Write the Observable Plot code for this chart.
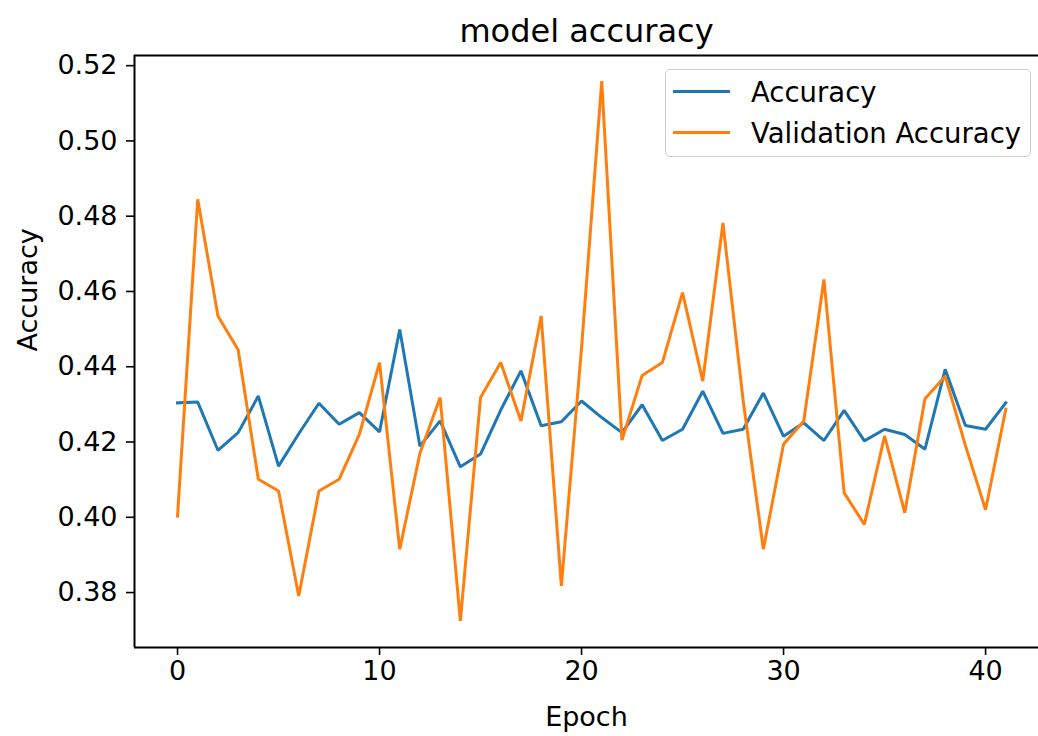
<!DOCTYPE html>
<html>
<head>
<meta charset="utf-8">
<script src="https://cdn.jsdelivr.net/npm/d3@7"></script>
<script src="https://cdn.jsdelivr.net/npm/@observablehq/plot@0.6"></script>
<style>
  html, body { margin: 0; padding: 0; background: #fff; }
  #wrap { position: relative; width: 1038px; height: 736px; overflow: hidden; font-family: "DejaVu Sans", sans-serif; }
  #legend { position: absolute; left: 665px; top: 69px; width: 366px; height: 88px; box-sizing: border-box;
            border: 1.5px solid #d0d0d0; border-radius: 5px; background: rgba(255,255,255,0.85); }
  .sw { position: absolute; left: 7px; width: 57px; height: 3px; }
  .lt { position: absolute; left: 85px; font-size: 27.5px; line-height: 32px; color: #000; white-space: nowrap; }
</style>
</head>
<body>
<div id="wrap"></div>
<script>
const epochs = [0,1,2,3,4,5,6,7,8,9,10,11,12,13,14,15,16,17,18,19,20,21,22,23,24,25,26,27,28,29,30,31,32,33,34,35,36,37,38,39,40,41];
const accuracy = [0.4304,0.4306,0.4178,0.4225,0.4322,0.4136,0.4222,0.4303,0.4247,0.4278,0.4227,0.4499,0.4189,0.4256,0.4134,0.4168,0.4285,0.4389,0.4243,0.4254,0.4309,0.4265,0.4225,0.4299,0.4204,0.4234,0.4335,0.4223,0.4234,0.4330,0.4215,0.4251,0.4204,0.4284,0.4203,0.4234,0.4220,0.4181,0.4393,0.4244,0.4234,0.4304];
const validation = [0.4003,0.4845,0.4535,0.4445,0.4101,0.4070,0.3791,0.4070,0.4101,0.4220,0.4411,0.3915,0.4170,0.4318,0.3725,0.4318,0.4411,0.4256,0.4535,0.3818,0.4450,0.5159,0.4205,0.4377,0.4411,0.4597,0.4362,0.4782,0.4310,0.3915,0.4194,0.4256,0.4632,0.4065,0.3981,0.4216,0.4012,0.4315,0.4375,0.4191,0.4020,0.4287];
const seriesNames = ["Accuracy", "Validation Accuracy"];
const seriesColors = ["#1f77b4", "#ff7f0e"];
const xTicks = [0, 10, 20, 30, 40];
const yTicks = [0.38, 0.40, 0.42, 0.44, 0.46, 0.48, 0.50, 0.52];
const title = "model accuracy";
const xLabel = "Epoch";
const yLabel = "Accuracy";

const xDomain = [-2.13, 42.62];
const yDomain = [0.3654, 0.5227];

const accData = epochs.map((e, i) => ({epoch: e, value: accuracy[i]}));
const valData = epochs.map((e, i) => ({epoch: e, value: validation[i]}));

const chart = Plot.plot({
  width: 1038,
  height: 736,
  marginTop: 55,
  marginBottom: 89,
  marginLeft: 134,
  marginRight: 0,
  style: {fontFamily: "DejaVu Sans, sans-serif", fontSize: "27px", color: "#000", background: "#fff"},
  x: {domain: xDomain},
  y: {domain: yDomain},
  marks: [
    Plot.axisX({ticks: xTicks, tickFormat: d => String(d), tickSize: 8, tickPadding: 5, strokeWidth: 1.6, label: null, fontSize: 27}),
    Plot.axisY({ticks: yTicks, tickFormat: d => d.toFixed(2), tickSize: 8, tickPadding: 9, strokeWidth: 1.6, label: null, fontSize: 27}),
    Plot.ruleY([yDomain[0], yDomain[1]], {stroke: "#000", strokeWidth: 2}),
    Plot.ruleX([xDomain[0]], {stroke: "#000", strokeWidth: 2}),
    Plot.line(accData, {x: "epoch", y: "value", stroke: seriesColors[0], strokeWidth: 3, strokeLinejoin: "miter", strokeLinecap: "square"}),
    Plot.line(valData, {x: "epoch", y: "value", stroke: seriesColors[1], strokeWidth: 3, strokeLinejoin: "miter", strokeLinecap: "square"}),
    Plot.text([title], {frameAnchor: "top", lineAnchor: "middle", dy: -24, fontSize: 32, fill: "#000"}),
    Plot.text([xLabel], {frameAnchor: "bottom", lineAnchor: "middle", dy: 70, fontSize: 27, fill: "#000"}),
    Plot.text([yLabel], {frameAnchor: "left", dx: -106, rotate: -90, fontSize: 27, fill: "#000"})
  ]
});

const wrap = document.getElementById("wrap");
wrap.appendChild(chart);

const legend = document.createElement("div");
legend.id = "legend";
const rowTops = [21, 62];
seriesNames.forEach((name, i) => {
  const sw = document.createElement("div");
  sw.className = "sw";
  sw.style.top = (rowTops[i] - 1.5) + "px";
  sw.style.background = seriesColors[i];
  legend.appendChild(sw);
  const t = document.createElement("div");
  t.className = "lt";
  t.style.top = (rowTops[i] - 15) + "px";
  t.textContent = name;
  legend.appendChild(t);
});
wrap.appendChild(legend);
</script>
</body>
</html>
